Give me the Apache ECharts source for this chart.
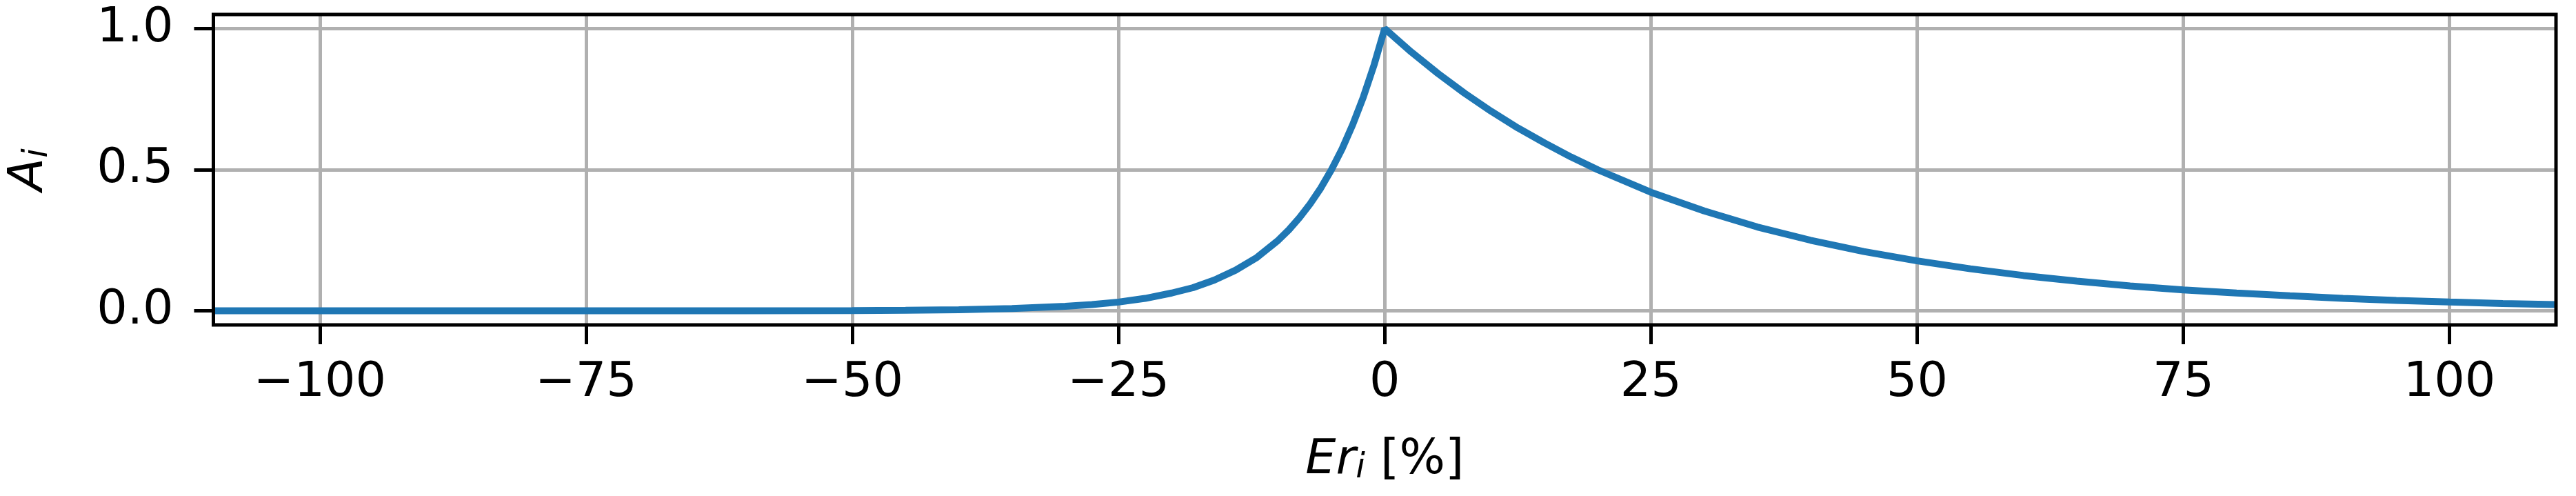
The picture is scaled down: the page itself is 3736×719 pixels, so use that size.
<!DOCTYPE html>
<html>
<head>
<meta charset="utf-8">
<script src="https://cdn.jsdelivr.net/npm/echarts@6/dist/echarts.min.js"></script>
<style>
  html, body { margin: 0; padding: 0; background: #fff; }
  #chart { width: 3736px; height: 719px; }
</style>
</head>
<body>
<div id="chart"></div>
<script>
// relative error Er_i [%] and weight A_i
const errPct = [-110, -100, -90, -80, -70, -60, -50, -45, -40, -35, -30, -27.5, -25, -22.5, -20,
  -18, -16, -14, -12, -10, -9, -8, -7, -6, -5, -4, -3, -2, -1, 0,
  2.5, 5, 7.5, 10, 12.5, 15, 17.5, 20, 25, 30, 35, 40, 45, 50, 55, 60, 65, 70, 75,
  80, 85, 90, 95, 100, 105, 110];
const weight = [0, 0, 0, 0, 0, 0, 0.001, 0.002, 0.004, 0.008, 0.016, 0.022, 0.031, 0.044, 0.063,
  0.082, 0.109, 0.144, 0.189, 0.25, 0.287, 0.33, 0.379, 0.435, 0.5, 0.574, 0.66, 0.758, 0.871, 1.0,
  0.917, 0.841, 0.771, 0.707, 0.648, 0.595, 0.545, 0.5, 0.42, 0.354, 0.297, 0.25, 0.21, 0.177, 0.149,
  0.125, 0.105, 0.088, 0.074, 0.063, 0.053, 0.044, 0.037, 0.031, 0.026, 0.022];
const xTicks = [-100, -75, -50, -25, 0, 25, 50, 75, 100];
const yTicks = [0, 0.5, 1];

const chart = echarts.init(document.getElementById("chart"), null, { renderer: "canvas" });
const font = "DejaVu Sans";
const minus = (v) => String(v).replace("-", "\u2212");

const option = {
  backgroundColor: "#fff",
  animation: false,
  textStyle: { fontFamily: font, color: "#000" },
  grid: {
    left: 308,
    right: 29,
    top: 21,
    bottom: 248,
    show: true,
    borderColor: "#000",
    borderWidth: 5,
    z: 3,
  },
  xAxis: {
    type: "value",
    min: -110,
    max: 110,
    name: "{it|Er}{sub|i}{n| [%]}",
    nameLocation: "middle",
    nameGap: 160,
    nameTextStyle: {
      rich: {
        it: { fontFamily: font, fontStyle: "italic", fontSize: 70, color: "#000" },
        sub: { fontFamily: font, fontStyle: "italic", fontSize: 49, color: "#000", padding: [24, 0, 0, 0] },
        n: { fontFamily: font, fontSize: 70, color: "#000" },
      },
    },
    axisLine: { show: false, onZero: false },
    axisTick: { show: true, customValues: xTicks, length: 28, lineStyle: { color: "#000", width: 5 } },
    axisLabel: {
      customValues: xTicks,
      margin: 50,
      fontSize: 70,
      fontFamily: font,
      color: "#000",
      formatter: (v) => minus(v),
    },
    splitLine: { show: true, lineStyle: { color: "#b0b0b0", width: 5 } },
  },
  yAxis: {
    type: "value",
    min: -0.05,
    max: 1.05,
    name: "{it|A}{sub|i}",
    nameLocation: "middle",
    nameGap: 230,
    nameRotate: 90,
    nameTextStyle: {
      rich: {
        it: { fontFamily: font, fontStyle: "italic", fontSize: 70, color: "#000" },
        sub: { fontFamily: font, fontStyle: "italic", fontSize: 49, color: "#000", padding: [24, 0, 0, 0] },
      },
    },
    axisLine: { show: false, onZero: false },
    axisTick: { show: true, customValues: yTicks, length: 28, lineStyle: { color: "#000", width: 5 } },
    axisLabel: {
      customValues: yTicks,
      margin: 58,
      fontSize: 70,
      fontFamily: font,
      color: "#000",
      formatter: (v) => v.toFixed(1),
    },
    splitLine: { show: true, lineStyle: { color: "#b0b0b0", width: 5 } },
  },
  series: [
    {
      type: "line",
      data: errPct.map((x, i) => [x, weight[i]]),
      showSymbol: false,
      clip: true,
      lineStyle: { color: "#1f77b4", width: 10 },
      z: 2,
    },
  ],
};
chart.setOption(option);
</script>
</body>
</html>
